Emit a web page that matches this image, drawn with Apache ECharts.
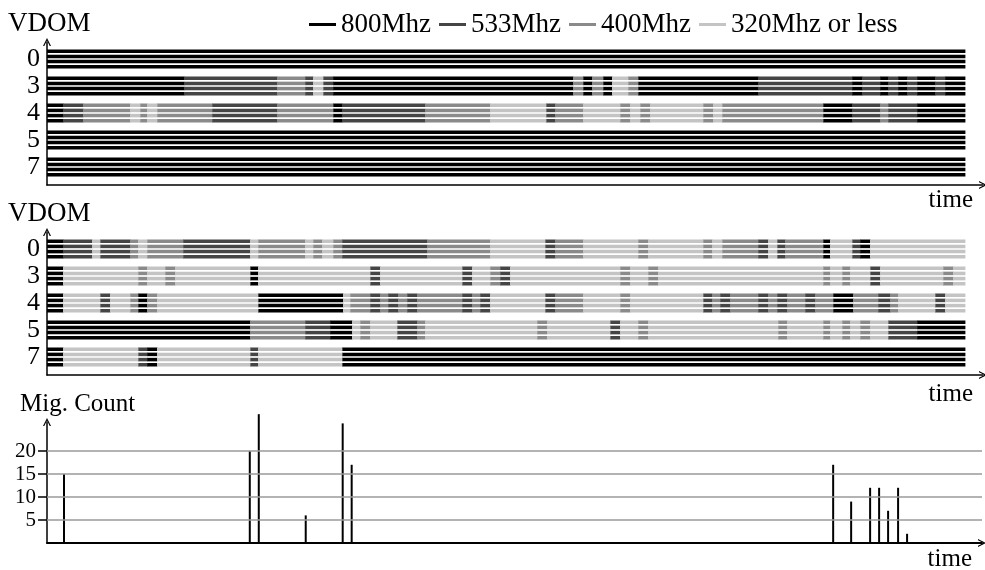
<!DOCTYPE html>
<html>
<head>
<meta charset="utf-8">
<script src="https://cdn.jsdelivr.net/npm/echarts@6/dist/echarts.min.js"></script>
<style>
html, body { margin: 0; padding: 0; background: #fff; }
#main { width: 985px; height: 570px; }
</style>
</head>
<body>
<div id="main"></div>
<script>
// 时间轴单位：任意单位，每行从 0 画到 END
var END = 918;
var vdomLabels = ['0', '3', '4', '5', '7'];
var freqNames = ['800Mhz', '533Mhz', '400Mhz', '320Mhz or less'];
var freqColors = ['#000000', '#454545', '#8a8a8a', '#c4c4c4'];

// 上图：每个 VDOM 的 [起始时间, 频率档位]，档位 0=800 1=533 2=400 3=320
var topSegs = [
	[[0,0]],
	[[0,0],[137,1],[230,2],[258,1],[266,3],[276,1],[286,0],[526,2],[536,0],[545,2],[556,0],[565,3],[581,2],[591,0],
	 [711,1],[805,0],[815,1],[833,0],[841,1],[851,0],[860,1],[870,0],[888,1],[898,0]],
	[[0,0],[16,1],[36,2],[83,3],[93,2],[100,3],[110,2],[165,1],[230,2],[286,0],[295,1],[378,2],[443,3],[499,1],[508,2],
	 [536,3],[573,2],[583,3],[593,2],[603,3],[656,2],[666,3],[675,2],[776,0],[805,1],[833,2],[841,1],[870,0]],
	[[0,0]],
	[[0,0]]
];

// 中图
var midSegs = [
	[[0,0],[16,1],[45,3],[53,1],[83,2],[91,3],[100,2],[136,1],[203,3],[211,2],[258,3],[266,2],[275,3],[286,2],[295,1],
	 [380,2],[443,3],[498,1],[508,2],[536,3],[591,2],[601,3],[656,2],[665,3],[675,2],[711,1],[721,3],[730,1],[738,2],
	 [776,0],[783,3],[805,1],[813,0],[823,3]],
	[[0,0],[16,3],[91,2],[100,3],[118,2],[128,3],[203,0],[211,3],[323,1],[333,3],[415,1],[425,3],[443,2],[453,1],[463,3],
	 [573,2],[583,3],[601,2],[611,3],[776,2],[783,3],[795,2],[803,3],[823,1],[833,3],[896,2],[906,3]],
	[[0,0],[16,3],[53,1],[63,3],[83,2],[91,0],[100,2],[110,3],[211,0],[296,3],[303,2],[323,1],[333,2],[341,1],[351,2],
	 [360,1],[370,2],[415,1],[425,2],[433,1],[443,3],[498,1],[508,2],[536,3],[573,2],[583,3],[656,1],[665,2],[673,1],
	 [683,2],[711,1],[721,2],[730,1],[740,2],[758,1],[768,2],[786,0],[806,2],[831,1],[843,2],[851,3],[888,1],[898,3]],
	[[0,0],[203,2],[258,1],[283,0],[305,3],[313,2],[323,3],[350,1],[370,2],[378,3],[490,2],[500,3],[563,1],[573,3],
	 [591,2],[601,3],[731,2],[740,3],[776,2],[783,3],[795,2],[803,3],[813,2],[823,3],[841,1],[870,0]],
	[[0,0],[16,3],[91,1],[100,0],[110,3],[203,1],[211,3],[295,0]]
];

// 下图：迁移次数
var migTimes = [17, 203, 212, 259, 296, 305, 787, 805, 824, 833, 842, 852, 861];
var migCounts = [15, 20, 28, 6, 26, 17, 17, 9, 12, 12, 7, 12, 2];
var migTicks = [5, 10, 15, 20];

var FONT = 'Liberation Serif';
var ARROW = 'path://M0,10 L5,0 L10,10 L8.4,10 L5,3.2 L1.6,10 Z';
var lineOffsets = [0.287, 0.096, -0.096, -0.287];
var LINE_H = 0.13;

//把分段数据转换成 [y位置, 开始, 结束]
function buildItems(segs, level){
	var items = [];
	for (var i = 0; i < segs.length; i++) {
		var row = segs[i];
		for (var j = 0; j < row.length; j++) {
			if (row[j][1] != level) continue;
			var end = j + 1 < row.length ? row[j + 1][0] : END;
			items.push([4 - i, row[j][0], end]);
		}
	}
	return items;
}

function renderRows(params, api){
	var y = api.value(0);
	var start = api.coord([api.value(1), y]);
	var end = api.coord([api.value(2), y]);
	var h = api.size([0, LINE_H])[1];
	var children = [];
	for (var k = 0; k < lineOffsets.length; k++) {
		var p = api.coord([api.value(1), y + lineOffsets[k]]);
		children.push({
			type: 'rect',
			shape: {x: p[0], y: p[1] - h / 2, width: end[0] - start[0] + 0.4, height: h},
			style: {fill: api.visual('color')}
		});
	}
	return {type: 'group', children: children};
}

var grids = [
	{left: 47, top: 42, width: 936, height: 143, outerBoundsMode: 'none'},
	{left: 47, top: 232, width: 936, height: 143, outerBoundsMode: 'none'},
	{left: 47, top: 422, width: 935, height: 121, outerBoundsMode: 'none'}
];
var timePad = [3, 7, 4];

var xAxes = [];
var yAxes = [];
for (var g = 0; g < 3; g++) {
	xAxes.push({
		type: 'value', gridIndex: g, min: 0, max: 936,
		axisLine: {show: true, onZero: false, symbol: ['none', ARROW], symbolSize: [8, 8], lineStyle: {color: '#000', width: g == 2 ? 2 : 1.5}},
		axisTick: {show: false}, axisLabel: {show: false}, splitLine: {show: false},
		name: 'time', nameLocation: 'end', nameGap: -10,
		nameTextStyle: {fontFamily: FONT, fontSize: 25, color: '#000', align: 'right', verticalAlign: 'top', padding: [timePad[g], 0, 0, 0]}
	});
}
for (var g = 0; g < 2; g++) {
	yAxes.push({
		type: 'value', gridIndex: g, min: -0.667, max: 4.63,
		axisLine: {show: true, onZero: false, symbol: ['none', ARROW], symbolSize: [8, 8], lineStyle: {color: '#000', width: 1.5}},
		axisTick: {show: false}, splitLine: {show: false},
		axisLabel: {
			customValues: [0, 1, 2, 3, 4],
			formatter: function(v){ return vdomLabels[4 - Math.round(v)]; },
			fontFamily: FONT, fontSize: 26, color: '#000', margin: 7, padding: [4, 0, 0, 0]
		}
	});
}
yAxes.push({
	type: 'value', gridIndex: 2, min: 0, max: 26.3,
	axisLine: {show: true, onZero: false, symbol: ['none', ARROW], symbolSize: [8, 8], lineStyle: {color: '#000', width: 1.5}},
	axisTick: {show: true, customValues: migTicks, length: 9, lineStyle: {color: '#000', width: 1.5}},
	splitLine: {show: false},
	axisLabel: {
		customValues: migTicks, hideOverlap: false, showMinLabel: true, showMaxLabel: true,
		fontFamily: FONT, fontSize: 21, lineHeight: 18, color: '#000', margin: 11
	}
});

var series = [];
var panels = [topSegs, midSegs];
for (var p = 0; p < panels.length; p++) {
	for (var L = 0; L < freqNames.length; L++) {
		series.push({
			type: 'custom', name: freqNames[L],
			xAxisIndex: p, yAxisIndex: p,
			renderItem: renderRows,
			encode: {x: [1, 2], y: 0},
			itemStyle: {color: freqColors[L]},
			data: buildItems(panels[p], L)
		});
	}
}
series.push({
	type: 'bar', name: 'Mig. Count', xAxisIndex: 2, yAxisIndex: 2,
	barWidth: 2, clip: false,
	itemStyle: {color: '#000'},
	data: migTimes.map(function(t, i){ return [t, migCounts[i]]; }),
	markLine: {
		silent: true, symbol: 'none', label: {show: false},
		lineStyle: {color: '#9a9a9a', width: 1.5, type: 'solid'},
		data: migTicks.map(function(v){ return {yAxis: v}; })
	}
});

var titleStyle = {fontFamily: FONT, fontSize: 27, fontWeight: 'normal', color: '#000'};
var myChart = echarts.init(document.getElementById('main'));
var option = {
	animation: false,
	backgroundColor: '#fff',
	title: [
		{text: 'VDOM', left: 8, top: 10, padding: 0, textStyle: titleStyle},
		{text: 'VDOM', left: 8, top: 200, padding: 0, textStyle: titleStyle},
		{text: 'Mig. Count', left: 20, top: 392, padding: 0, textStyle: {fontFamily: FONT, fontSize: 25, fontWeight: 'normal', color: '#000'}}
	],
	legend: {
		data: freqNames, left: 309, top: 11, padding: 0,
		icon: 'rect', itemWidth: 27, itemHeight: 3, itemGap: 8,
		textStyle: {fontFamily: FONT, fontSize: 27, color: '#000'}
	},
	grid: grids,
	xAxis: xAxes,
	yAxis: yAxes,
	series: series
};
myChart.setOption(option);
</script>
</body>
</html>
